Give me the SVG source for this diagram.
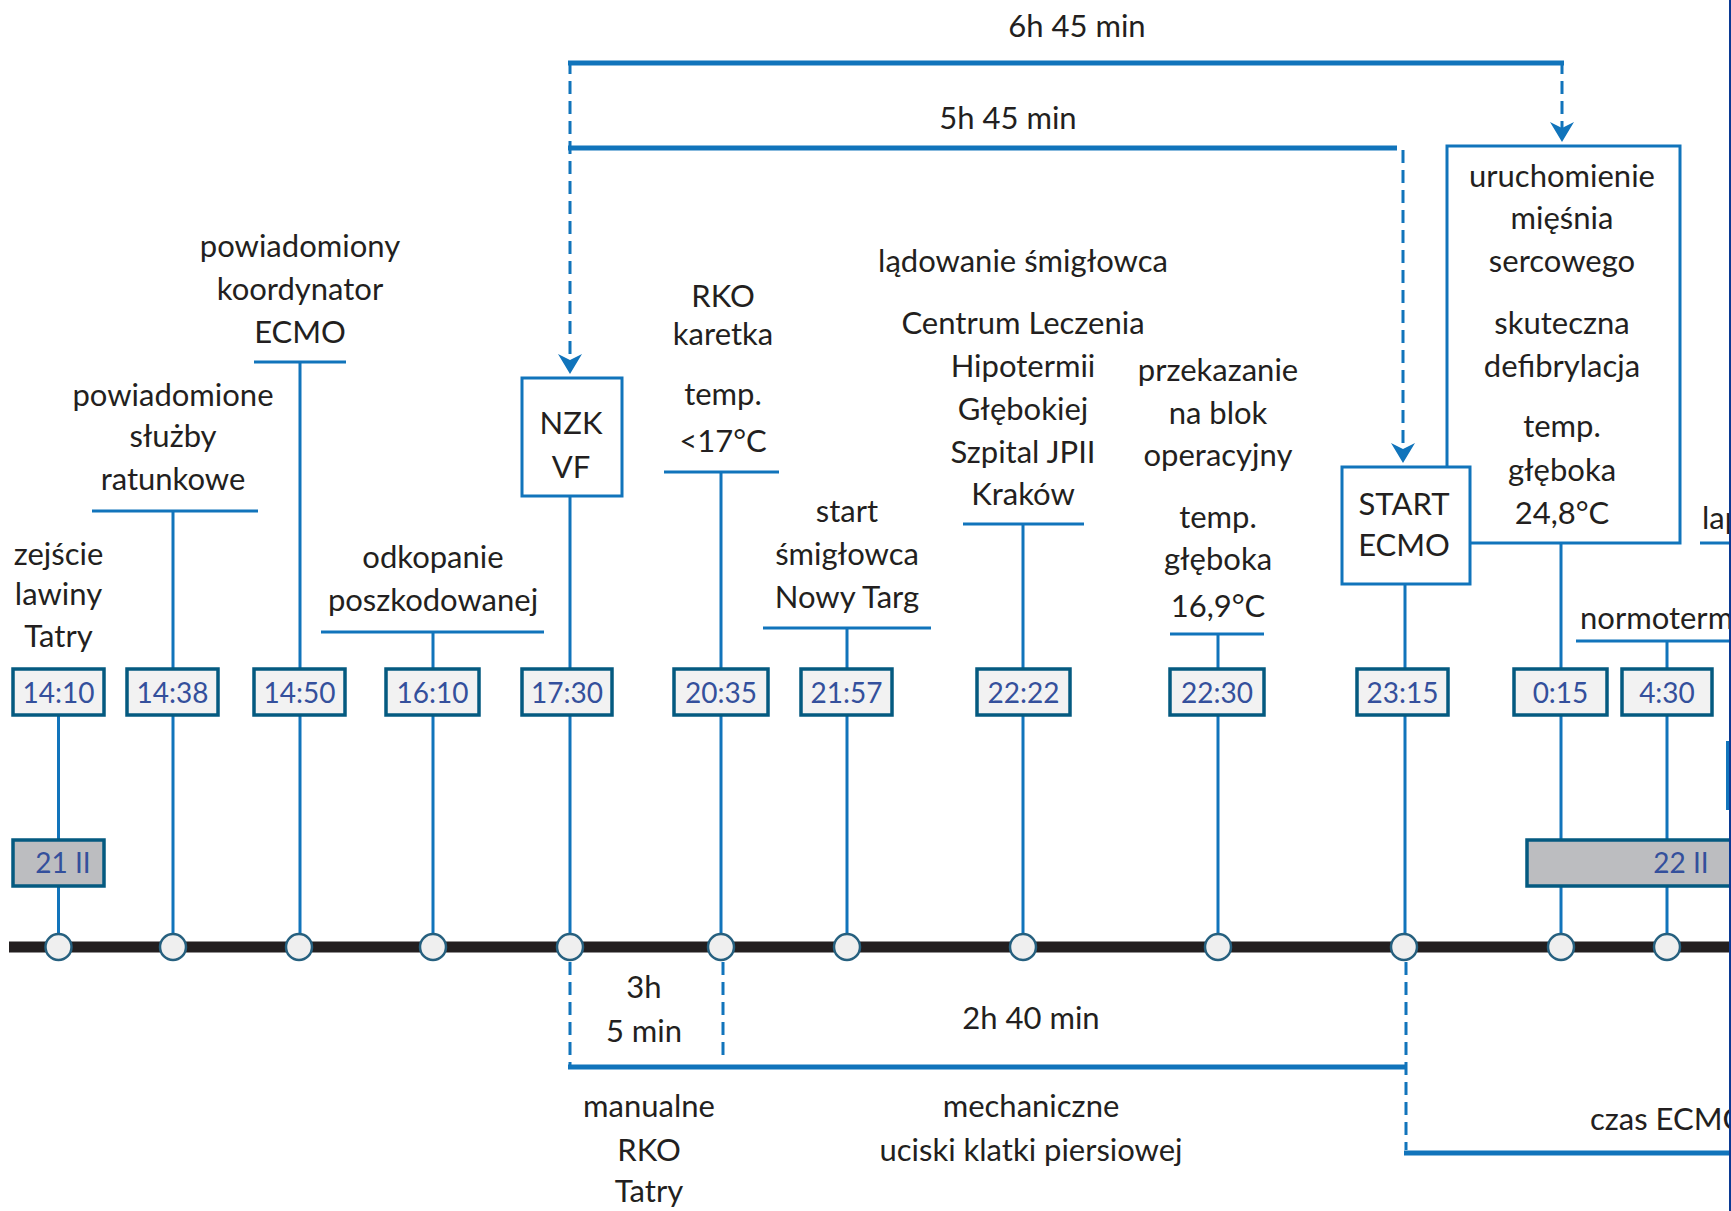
<svg xmlns="http://www.w3.org/2000/svg" width="1731" height="1211" viewBox="0 0 1731 1211">
<defs>
<style>
.t{font-family:Lato,"Open Sans","Liberation Sans",sans-serif;font-size:31px;fill:#231f20;text-anchor:middle}
.ts{font-family:Lato,"Open Sans","Liberation Sans",sans-serif;font-size:28px;fill:#34509c;text-anchor:middle}
.s{text-anchor:start}
.v{stroke:#1174bb;stroke-width:3;fill:none}
.br{stroke:#1174bb;stroke-width:5;fill:none}
.d{stroke:#1174bb;stroke-width:3;stroke-dasharray:13 7;fill:none}
.tb{fill:#f2f2f2;stroke:#045a80;stroke-width:3.5}
.db{fill:#bcbdc0;stroke:#045a80;stroke-width:3.5}
.nb{fill:#fff;stroke:#1174bb;stroke-width:3}
.c{fill:#efefef;stroke:#26607f;stroke-width:2.5}
</style>
<path id="ah" d="M-12,-20 L0,-14 L12,-20 L0,0 Z" fill="#1174bb"/>
</defs>
<rect width="1731" height="1211" fill="#fff"/>

<g id="axis">
<line x1="9" y1="947" x2="1731" y2="947" stroke="#231f20" stroke-width="11"/>
</g>

<g id="connectors">
<line class="v" x1="58.5" y1="715" x2="58.5" y2="934"/>
<line class="v" x1="173" y1="511" x2="173" y2="934"/>
<line class="v" x1="300" y1="362" x2="300" y2="934"/>
<line class="v" x1="433" y1="632" x2="433" y2="934"/>
<line class="v" x1="570" y1="496" x2="570" y2="934"/>
<line class="v" x1="721" y1="472" x2="721" y2="934"/>
<line class="v" x1="847" y1="628" x2="847" y2="934"/>
<line class="v" x1="1023" y1="524" x2="1023" y2="934"/>
<line class="v" x1="1218" y1="634" x2="1218" y2="934"/>
<line class="v" x1="1405" y1="584" x2="1405" y2="934"/>
<line class="v" x1="1561" y1="543" x2="1561" y2="934"/>
<line class="v" x1="1667" y1="641" x2="1667" y2="934"/>
<!-- top brackets -->
<line class="br" x1="568" y1="63" x2="1564" y2="63"/>
<line class="br" x1="568" y1="148" x2="1397" y2="148"/>
<line class="d" x1="570" y1="61" x2="570" y2="362"/>
<use href="#ah" x="570" y="374"/>
<line class="d" x1="1562" y1="61" x2="1562" y2="130"/>
<use href="#ah" x="1562" y="142"/>
<line class="d" x1="1403" y1="150" x2="1403" y2="451"/>
<use href="#ah" x="1403" y="463"/>
<!-- bottom brackets -->
<line class="d" x1="570" y1="962" x2="570" y2="1067"/>
<line class="d" x1="723" y1="962" x2="723" y2="1062"/>
<line class="br" x1="568" y1="1067" x2="1406" y2="1067"/>
<line class="d" x1="1406" y1="962" x2="1406" y2="1150"/>
<line class="br" x1="1404" y1="1153" x2="1731" y2="1153"/>
</g>

<g id="duration-labels">
<text class="t" x="1077" y="37">6h 45 min</text>
<text class="t" x="1008" y="129">5h 45 min</text>
<text class="t" x="644" y="998">3h</text>
<text class="t" x="644" y="1042">5 min</text>
<text class="t" x="1031" y="1029">2h 40 min</text>
<text class="t" x="649" y="1117">manualne</text>
<text class="t" x="649" y="1161">RKO</text>
<text class="t" x="649" y="1202">Tatry</text>
<text class="t" x="1031" y="1117">mechaniczne</text>
<text class="t" x="1031" y="1161">uciski klatki piersiowej</text>
<text class="t s" x="1590" y="1130">czas ECMO</text>
</g>

<g id="e1410">
<text class="t" x="58.5" y="565">zejście</text>
<text class="t" x="58.5" y="605">lawiny</text>
<text class="t" x="58.5" y="647">Tatry</text>
<rect class="tb" x="13" y="669" width="91" height="46"/>
<text class="ts" x="58.5" y="703">14:10</text>
</g>
<g id="d21">
<rect class="db" x="13" y="840" width="91" height="46"/>
<text class="ts" x="63" y="873">21 II</text>
</g>
<g id="e1438">
<text class="t" x="173" y="406">powiadomione</text>
<text class="t" x="173" y="447">służby</text>
<text class="t" x="173" y="490">ratunkowe</text>
<line class="v" x1="92" y1="511" x2="258" y2="511"/>
<rect class="tb" x="127" y="669" width="91" height="46"/>
<text class="ts" x="172.5" y="703">14:38</text>
</g>
<g id="e1450">
<text class="t" x="300" y="257">powiadomiony</text>
<text class="t" x="300" y="300">koordynator</text>
<text class="t" x="300" y="343">ECMO</text>
<line class="v" x1="254" y1="362" x2="346" y2="362"/>
<rect class="tb" x="254" y="669" width="91" height="46"/>
<text class="ts" x="299.5" y="703">14:50</text>
</g>
<g id="e1610">
<text class="t" x="433" y="568">odkopanie</text>
<text class="t" x="433" y="611">poszkodowanej</text>
<line class="v" x1="321" y1="632" x2="544" y2="632"/>
<rect class="tb" x="386" y="669" width="93" height="46"/>
<text class="ts" x="432.5" y="703">16:10</text>
</g>
<g id="e1730">
<rect class="nb" x="522" y="378" width="100" height="118"/>
<text class="t" x="571" y="434">NZK</text>
<text class="t" x="571" y="478">VF</text>
<rect class="tb" x="522" y="669" width="90" height="46"/>
<text class="ts" x="567" y="703">17:30</text>
</g>
<g id="e2035">
<text class="t" x="723" y="307">RKO</text>
<text class="t" x="723" y="345">karetka</text>
<text class="t" x="723" y="405">temp.</text>
<text class="t" x="723" y="452">&lt;17°C</text>
<line class="v" x1="664" y1="472" x2="779" y2="472"/>
<rect class="tb" x="674" y="669" width="94" height="46"/>
<text class="ts" x="721" y="703">20:35</text>
</g>
<g id="e2157">
<text class="t" x="847" y="522">start</text>
<text class="t" x="847" y="565">śmigłowca</text>
<text class="t" x="847" y="608">Nowy Targ</text>
<line class="v" x1="763" y1="628" x2="931" y2="628"/>
<rect class="tb" x="801" y="669" width="91" height="46"/>
<text class="ts" x="846.5" y="703">21:57</text>
</g>
<g id="e2222">
<text class="t" x="1023" y="272">lądowanie śmigłowca</text>
<text class="t" x="1023" y="334">Centrum Leczenia</text>
<text class="t" x="1023" y="377">Hipotermii</text>
<text class="t" x="1023" y="420">Głębokiej</text>
<text class="t" x="1023" y="463">Szpital JPII</text>
<text class="t" x="1023" y="505">Kraków</text>
<line class="v" x1="963" y1="524" x2="1084" y2="524"/>
<rect class="tb" x="977" y="669" width="93" height="46"/>
<text class="ts" x="1023.5" y="703">22:22</text>
</g>
<g id="e2230">
<text class="t" x="1218" y="381">przekazanie</text>
<text class="t" x="1218" y="424">na blok</text>
<text class="t" x="1218" y="466">operacyjny</text>
<text class="t" x="1218" y="528">temp.</text>
<text class="t" x="1218" y="570">głęboka</text>
<text class="t" x="1218" y="617">16,9°C</text>
<line class="v" x1="1170" y1="634" x2="1264" y2="634"/>
<rect class="tb" x="1170" y="669" width="94" height="46"/>
<text class="ts" x="1217" y="703">22:30</text>
</g>
<g id="e0015">
<rect class="nb" x="1447" y="146" width="233" height="397"/>
<text class="t" x="1562" y="187">uruchomienie</text>
<text class="t" x="1562" y="229">mięśnia</text>
<text class="t" x="1562" y="272">sercowego</text>
<text class="t" x="1562" y="334">skuteczna</text>
<text class="t" x="1562" y="377">defibrylacja</text>
<text class="t" x="1562" y="437">temp.</text>
<text class="t" x="1562" y="481">głęboka</text>
<text class="t" x="1562" y="524">24,8°C</text>
<rect class="tb" x="1514" y="669" width="93" height="46"/>
<text class="ts" x="1560.5" y="703">0:15</text>
</g>
<g id="e2315">
<rect class="nb" x="1342" y="467" width="128" height="117"/>
<text class="t" x="1404" y="515">START</text>
<text class="t" x="1404" y="556">ECMO</text>
<rect class="tb" x="1357" y="669" width="91" height="46"/>
<text class="ts" x="1402.5" y="703">23:15</text>
</g>
<g id="e0430">
<text class="t s" x="1580" y="629">normotermia</text>
<line class="v" x1="1576" y1="641" x2="1731" y2="641"/>
<rect class="tb" x="1622" y="669" width="90" height="46"/>
<text class="ts" x="1667" y="703">4:30</text>
</g>
<g id="d22">
<rect class="db" x="1527" y="840" width="300" height="46"/>
<text class="ts" x="1681" y="873">22 II</text>
</g>
<g id="e-next">
<text class="t s" x="1702" y="529">lap</text>
<line class="v" x1="1700" y1="543" x2="1731" y2="543"/>
<rect x="1726" y="741" width="5" height="69" fill="#1174bb"/>
</g>

<g id="points">
<circle class="c" cx="58.5" cy="947" r="13"/>
<circle class="c" cx="173" cy="947" r="13"/>
<circle class="c" cx="299" cy="947" r="13"/>
<circle class="c" cx="433" cy="947" r="13"/>
<circle class="c" cx="570" cy="947" r="13"/>
<circle class="c" cx="721" cy="947" r="13"/>
<circle class="c" cx="847" cy="947" r="13"/>
<circle class="c" cx="1023" cy="947" r="13"/>
<circle class="c" cx="1218" cy="947" r="13"/>
<circle class="c" cx="1404" cy="947" r="13"/>
<circle class="c" cx="1561" cy="947" r="13"/>
<circle class="c" cx="1667" cy="947" r="13"/>
</g>
<line x1="1730" y1="0" x2="1730" y2="1211" stroke="#0b3a94" stroke-width="2"/>
</svg>
